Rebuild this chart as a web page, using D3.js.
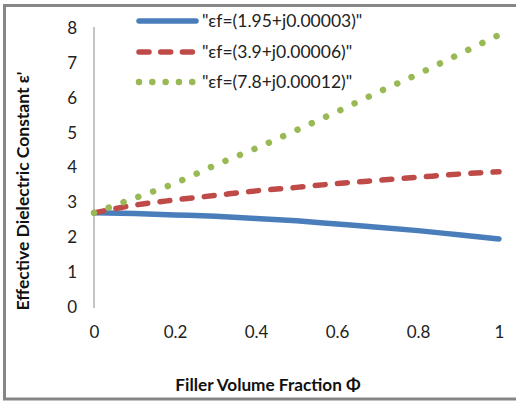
<!DOCTYPE html>
<html><head><meta charset="utf-8">
<script src="https://cdn.jsdelivr.net/npm/d3@7"></script>
<style>body{margin:0;background:#fff}svg{display:block}</style>
</head><body>
<svg id="c" width="516" height="403"></svg>
<script>
const phi = [0, 0.1, 0.2, 0.3, 0.4, 0.5, 0.6, 0.7, 0.8, 0.9, 1.0];
const blueVals  = [2.70, 2.68, 2.64, 2.60, 2.54, 2.47, 2.38, 2.29, 2.19, 2.07, 1.95];
const redVals   = [2.70, 2.92, 3.07, 3.20, 3.33, 3.43, 3.54, 3.63, 3.72, 3.81, 3.88];
const greenVals = [2.70, 3.12, 3.55, 4.07, 4.55, 5.07, 5.60, 6.15, 6.68, 7.24, 7.80];
const seriesNames = ['"εf=(1.95+j0.00003)"', '"εf=(3.9+j0.00006)"', '"εf=(7.8+j0.00012)"'];
const xTicks = [0, 0.2, 0.4, 0.6, 0.8, 1];
const yTicks = [0, 1, 2, 3, 4, 5, 6, 7, 8];

const svg = d3.select('#c');
const font = 'Lato, "Open Sans", sans-serif';

// border
svg.append('rect').attr('x', 4.5).attr('y', 5.5).attr('width', 530).attr('height', 393.5)
  .attr('fill', 'none').attr('stroke', '#868686').attr('stroke-width', 3);

const x = d3.scaleLinear().domain([0, 1]).range([94, 499]);
const y = d3.scaleLinear().domain([0, 8]).range([307, 28]);

// y axis line
svg.append('line').attr('x1', 94).attr('x2', 94).attr('y1', y(8) - 1).attr('y2', y(0) + 1)
  .attr('stroke', '#b0b0b0').attr('stroke-width', 1.5);

// y tick labels
const yAxis = d3.axisLeft(y).tickValues(yTicks).tickSize(0).tickPadding(17).tickFormat(d3.format('d'));
const gy = svg.append('g').attr('transform', 'translate(94,0)').call(yAxis);
gy.select('.domain').remove();
gy.selectAll('text').attr('font-family', font).attr('font-size', 17).attr('fill', '#222');

// x tick labels
const xAxis = d3.axisBottom(x).tickValues(xTicks).tickSize(0).tickPadding(0).tickFormat(d => d === 0 || d === 1 ? d3.format('d')(d) : d3.format('.1f')(d));
const gx = svg.append('g').attr('transform', 'translate(0,326)').call(xAxis);
gx.select('.domain').remove();
gx.selectAll('text').attr('font-family', font).attr('font-size', 17).attr('fill', '#222');

// axis titles
svg.append('text').attr('x', 268).attr('y', 391).attr('text-anchor', 'middle')
  .attr('font-family', font).attr('font-weight', 'bold').attr('font-size', 17.2).attr('fill', '#111')
  .text('Filler Volume Fraction Φ');
svg.append('text').attr('transform', 'translate(29,191) rotate(-90)').attr('text-anchor', 'middle')
  .attr('font-family', font).attr('font-weight', 'bold').attr('font-size', 17.5).attr('fill', '#111')
  .text("Effective Dielectric Constant ε'");

const line = d3.line().x(d => x(d[0])).y(d => y(d[1])).curve(d3.curveMonotoneX);
const styles = [
  {vals: blueVals, color: '#4A7EBB', width: 5.5, dash: null},
  {vals: redVals, color: '#BE4B48', width: 5.5, dash: '10,12.3'},
  {vals: greenVals, color: '#98B954', width: 6.5, dash: '0.01,15.7'}
];
styles.forEach(s => {
  svg.append('path').datum(phi.map((p, i) => [p, s.vals[i]]))
    .attr('d', line).attr('fill', 'none').attr('stroke', s.color)
    .attr('stroke-width', s.width).attr('stroke-linecap', 'round')
    .attr('stroke-dasharray', s.dash);
});

// legend
const legY = [21, 52, 82];
const legDash = [null, '10,11.7', '0.01,13.3'];
styles.forEach((s, i) => {
  svg.append('line').attr('x1', 139).attr('x2', 196).attr('y1', legY[i]).attr('y2', legY[i])
    .attr('stroke', s.color).attr('stroke-width', s.width).attr('stroke-linecap', 'round')
    .attr('stroke-dasharray', legDash[i]);
  svg.append('text').attr('x', 202).attr('y', legY[i] + 6)
    .attr('font-family', font).attr('font-size', 17.5).attr('fill', '#222')
    .text(seriesNames[i]);
});
</script>
</body></html>
